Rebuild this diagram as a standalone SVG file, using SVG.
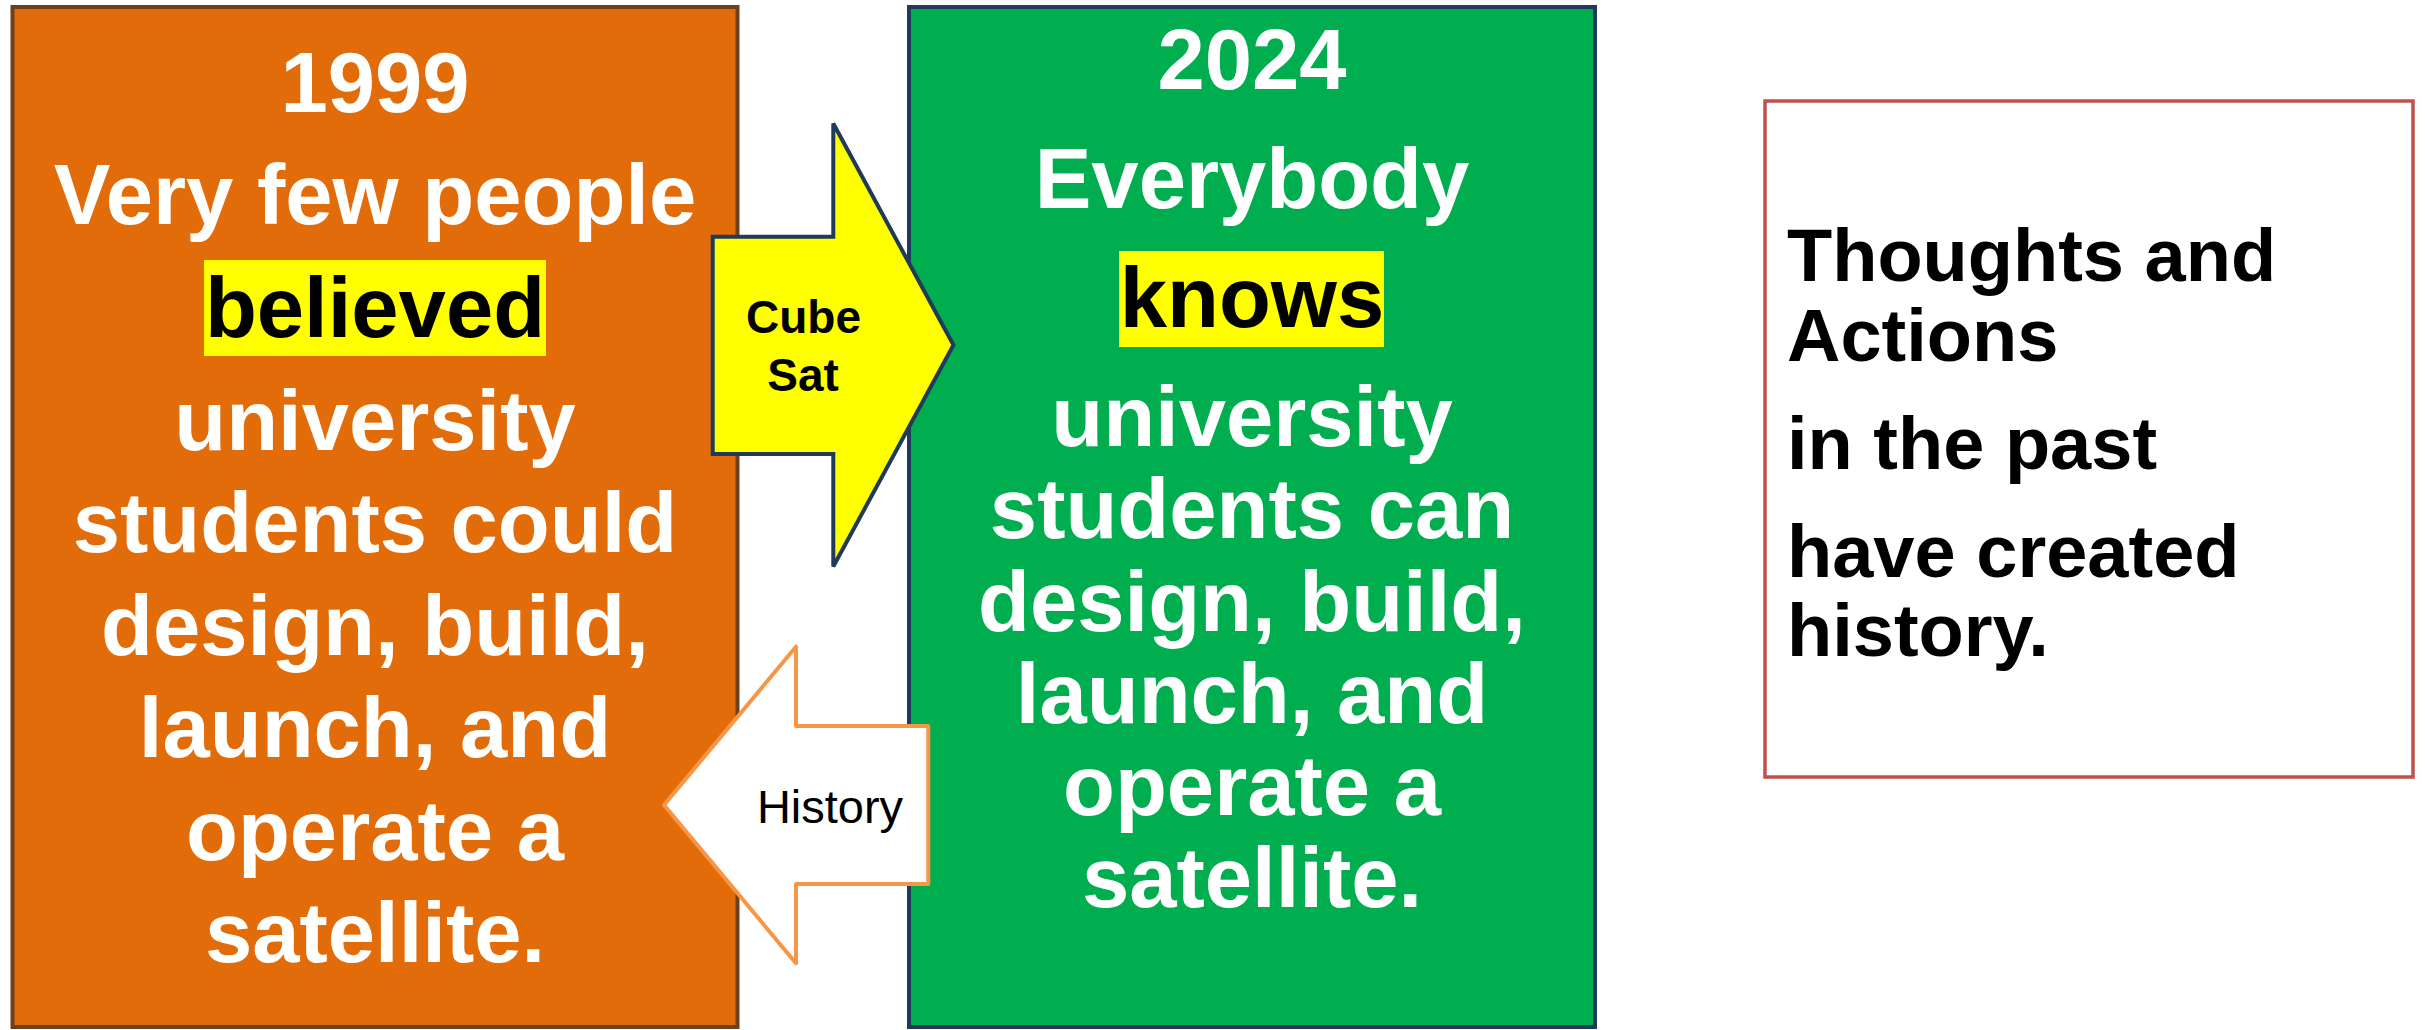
<svg xmlns="http://www.w3.org/2000/svg" width="2425" height="1030" viewBox="0 0 2425 1030">
  <style>
    .t { font-family: "Liberation Sans", Arial, sans-serif; font-weight: bold; }
    .big { font-size: 85px; fill: #FFFFFF; text-anchor: middle; }
    .hl { font-size: 85px; fill: #000000; text-anchor: middle; }
    .hlbox { fill: #FFFF00; }
    .note { font-size: 74px; fill: #000000; }
    .cube { font-size: 46px; fill: #000000; text-anchor: middle; }
    .hist { font-family: "Liberation Sans", Arial, sans-serif; font-weight: normal; font-size: 47px; fill: #000000; text-anchor: middle; }
  </style>
  <rect x="0" y="0" width="2425" height="1030" fill="#FFFFFF"/>

  <g id="node-1999">
    <rect x="12.5" y="7" width="725" height="1020" fill="#E36C0A" stroke="#6E411E" stroke-width="4"/>
    <rect class="hlbox" x="204" y="260" width="342" height="96"/>
    <text class="t big" x="375" y="112">1999</text>
    <text class="t big" x="375" y="224">Very few people</text>
    <text class="t hl" x="375" y="337">believed</text>
    <text class="t big" x="375" y="450">university</text>
    <text class="t big" x="375" y="552">students could</text>
    <text class="t big" x="375" y="655">design, build,</text>
    <text class="t big" x="375" y="757">launch, and</text>
    <text class="t big" x="375" y="860">operate a</text>
    <text class="t big" x="375" y="962">satellite.</text>
  </g>

  <g id="node-2024">
    <rect x="909" y="7" width="686" height="1020" fill="#00AE50" stroke="#1F3A5A" stroke-width="4"/>
    <rect class="hlbox" x="1119" y="251" width="265" height="96"/>
    <text class="t big" x="1252" y="89">2024</text>
    <text class="t big" x="1252" y="208">Everybody</text>
    <text class="t hl" x="1252" y="327">knows</text>
    <text class="t big" x="1252" y="446">university</text>
    <text class="t big" x="1252" y="538">students can</text>
    <text class="t big" x="1252" y="631">design, build,</text>
    <text class="t big" x="1252" y="723">launch, and</text>
    <text class="t big" x="1252" y="815">operate a</text>
    <text class="t big" x="1252" y="907">satellite.</text>
  </g>

  <g id="node-note">
    <rect x="1765" y="101" width="648" height="676" fill="#FFFFFF" stroke="#C0504D" stroke-width="3.5"/>
    <text class="t note" x="1787" y="281">Thoughts and</text>
    <text class="t note" x="1787" y="361">Actions</text>
    <text class="t note" x="1787" y="469">in the past</text>
    <text class="t note" x="1787" y="577">have created</text>
    <text class="t note" x="1787" y="656">history.</text>
  </g>

  <g id="connectors">
    <g id="arrow-cubesat">
      <polygon points="712.7,236.7 833.3,236.7 833.3,123.5 953.5,345 833.3,566.5 833.3,454 712.7,454" fill="#FFFF00" stroke="#1F3A5A" stroke-width="4" stroke-linejoin="miter"/>
      <text class="t cube" x="803.5" y="333">Cube</text>
      <text class="t cube" x="803" y="391">Sat</text>
    </g>
    <g id="arrow-history">
      <polygon points="664,805 796,646.7 796,726 928.3,726 928.3,884 796,884 796,963.3" fill="#FFFFFF" stroke="#F79646" stroke-width="4" stroke-linejoin="round"/>
      <text class="hist" x="830" y="822.7">History</text>
    </g>
  </g>
</svg>
